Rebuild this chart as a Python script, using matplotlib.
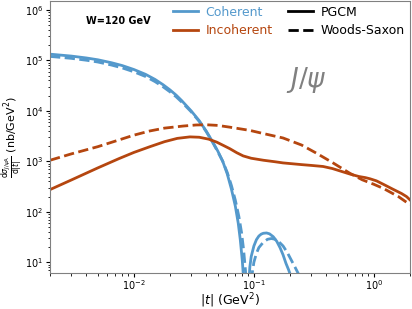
import matplotlib
matplotlib.use("Agg")
import matplotlib.pyplot as plt
from matplotlib.lines import Line2D

# Coherent, PGCM (solid)
coh_pg_t = [0.002, 0.003, 0.004, 0.005, 0.0065, 0.008, 0.01, 0.0125, 0.015, 0.0175, 0.02, 0.0225, 0.025,
            0.03, 0.035, 0.04, 0.045, 0.05, 0.055, 0.06, 0.065, 0.07, 0.074, 0.077, 0.08, 0.082, 0.084, 0.0855,
            0.088, 0.09, 0.0925, 0.095, 0.1, 0.105, 0.11, 0.115, 0.12, 0.1276, 0.135, 0.145, 0.155, 0.165,
            0.175, 0.185, 0.195, 0.202, 0.21, 0.218]
coh_pg_v = [1.33e5, 1.22e5, 1.12e5, 1.03e5, 9.0e4, 7.9e4, 6.6e4, 5.3e4, 4.2e4, 3.3e4, 2.6e4, 2.05e4, 1.6e4,
            1.0e4, 6.4e3, 4.0e3, 2.5e3, 1.6e3, 1.0e3, 560, 280, 130, 60, 28, 11, 4.8, 1.6, 0.3,
            0.3, 3, 8, 13, 21, 28, 33, 36, 37.5, 38, 36.5, 32, 26, 19.5,
            14, 9.5, 7, 5.5, 3, 1]
# Coherent, Woods-Saxon (dashed)
coh_ws_t = [0.002, 0.003, 0.004, 0.005, 0.0065, 0.008, 0.01, 0.0125, 0.015, 0.0175, 0.02, 0.0225, 0.025,
            0.03, 0.035, 0.04, 0.045, 0.05, 0.055, 0.06, 0.065, 0.07, 0.075, 0.079, 0.082, 0.085, 0.087, 0.089,
            0.0935, 0.0968, 0.1, 0.105, 0.11, 0.12, 0.13, 0.14, 0.15, 0.16, 0.175, 0.19, 0.205, 0.22, 0.234,
            0.243, 0.25]
coh_ws_v = [1.2e5, 1.1e5, 1.01e5, 9.3e4, 8.1e4, 7.1e4, 5.95e4, 4.8e4, 3.8e4, 3.0e4, 2.38e4, 1.9e4, 1.5e4,
            9.6e3, 6.2e3, 3.9e3, 2.45e3, 1.55e3, 1.0e3, 600, 330, 170, 80, 38, 18, 7, 3, 0.5,
            0.5, 6, 10, 15, 19.5, 25, 28.5, 29.5, 28.5, 26, 21, 15.5, 11, 8, 6,
            3, 0.5]
# Incoherent, PGCM (solid)
inc_pg_t = [0.002, 0.003, 0.005, 0.0075, 0.01, 0.0136, 0.018, 0.023, 0.0293, 0.035, 0.042, 0.049, 0.056,
            0.063, 0.072, 0.0814, 0.095, 0.12, 0.15, 0.175, 0.25, 0.3, 0.377, 0.45, 0.55, 0.63, 0.75, 0.85,
            0.93, 1.05, 1.2, 1.44, 1.7, 1.87, 2.0]
inc_pg_v = [275, 425, 740, 1130, 1500, 1950, 2450, 2850, 3050, 3000, 2750, 2400, 2050,
            1780, 1480, 1280, 1150, 1050, 980, 930, 860, 830, 790, 720, 620, 560, 500, 475,
            450, 410, 350, 280, 230, 200, 172]
# Incoherent, Woods-Saxon (dashed)
inc_ws_t = [0.002, 0.003, 0.005, 0.0075, 0.01, 0.0136, 0.018, 0.0257, 0.033, 0.0403, 0.05, 0.063, 0.0925,
            0.12, 0.175, 0.25, 0.33, 0.45, 0.63, 0.8, 1.0, 1.2, 1.6, 2.0]
inc_ws_v = [1050, 1400, 1950, 2650, 3300, 4000, 4550, 5000, 5250, 5300, 5150, 4750, 4100,
            3550, 2900, 2100, 1460, 950, 580, 430, 350, 290, 200, 138]

blue = "#5499cc"
orange = "#b5460f"

fig = plt.figure(figsize=(4.12, 3.09), dpi=100)
ax = fig.add_axes([0.1214, 0.1175, 0.8738, 0.879])
lw = 2.0
ax.plot(coh_pg_t, coh_pg_v, color=blue, lw=lw, ls="-")
ax.plot(coh_ws_t, coh_ws_v, color=blue, lw=lw, ls="--")
ax.plot(inc_pg_t, inc_pg_v, color=orange, lw=lw, ls="-")
ax.plot(inc_ws_t, inc_ws_v, color=orange, lw=lw, ls="--")

ax.set_xscale("log")
ax.set_yscale("log")
ax.set_xlim(0.002, 2.0)
ax.set_ylim(6.2, 1.5e6)
ax.tick_params(labelsize=7, pad=2, length=3)
ax.tick_params(axis="x", pad=1)
ax.tick_params(which="minor", length=1.8)
for s in ax.spines.values():
    s.set_color("#808080")

ax.set_xlabel(r"$|t|$ (GeV$^2$)", fontsize=9)
ax.xaxis.set_label_coords(0.5, -0.069)
ax.set_ylabel(r"$\frac{\mathrm{d}\sigma_{J/\psi\mathrm{A}}}{\mathrm{d}|t|}$ (nb/GeV$^2$)", fontsize=8)
ax.yaxis.set_label_coords(-0.07, 0.5)

ax.text(0.1, 0.925, "W=120 GeV", transform=ax.transAxes, fontsize=7, fontweight="bold", va="center")
ax.text(0.655, 0.71, r"$J/\psi$", transform=ax.transAxes, fontsize=19, color="#808080", va="center")

h1 = [Line2D([], [], color=blue, lw=lw), Line2D([], [], color=orange, lw=lw)]
leg1 = ax.legend(h1, ["Coherent", "Incoherent"], loc="upper left", bbox_to_anchor=(0.31, 1.025),
                 frameon=False, fontsize=9, labelcolor=[blue, orange], handlelength=2.0,
                 labelspacing=0.45, handletextpad=0.6)
ax.add_artist(leg1)
h2 = [Line2D([], [], color="black", lw=lw, ls="-"), Line2D([], [], color="black", lw=lw, ls="--")]
ax.legend(h2, ["PGCM", "Woods-Saxon"], loc="upper left", bbox_to_anchor=(0.63, 1.025),
          frameon=False, fontsize=9, handlelength=2.0, labelspacing=0.45, handletextpad=0.6)

fig.savefig("out.png", dpi=100)
